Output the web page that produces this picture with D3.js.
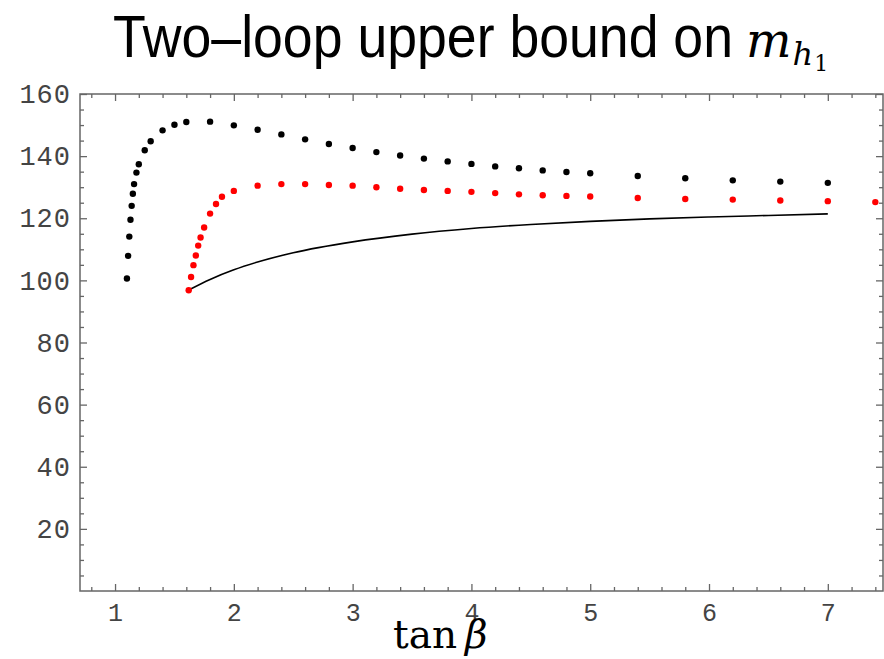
<!DOCTYPE html>
<html><head><meta charset="utf-8">
<script src="https://cdn.jsdelivr.net/npm/d3@7"></script>
<style>body{margin:0;background:#fff}svg{display:block}</style>
</head><body>
<script>
// Black dots (upper series)
const blackX = [1.1,1.11,1.12,1.13,1.14,1.15,1.16,1.18,1.2,1.25,1.3,1.4,1.5,1.6,1.8,2.0,2.2,2.4,2.6,2.8,3.0,3.2,3.4,3.6,3.8,4.0,4.2,4.4,4.6,4.8,5.0,5.4,5.8,6.2,6.6,7.0];
const blackY = [100.6,107.9,114.1,119.5,124.0,127.9,131.0,134.7,137.4,141.9,144.8,148.3,150.1,151.0,151.1,149.9,148.5,147.0,145.4,143.9,142.6,141.3,140.2,139.2,138.3,137.5,136.7,136.1,135.4,134.9,134.5,133.6,132.9,132.2,131.8,131.4];
// Red dots
const redX = [1.62,1.64,1.66,1.68,1.70,1.72,1.75,1.8,1.85,1.9,2.0,2.2,2.4,2.6,2.8,3.0,3.2,3.4,3.6,3.8,4.0,4.2,4.4,4.6,4.8,5.0,5.4,5.8,6.2,6.6,7.0,7.4];
const redY = [96.8,101.1,104.9,108.0,111.2,113.8,117.0,121.5,124.6,126.9,128.8,130.5,131.0,131.0,130.7,130.5,130.0,129.5,129.1,128.8,128.5,128.1,127.7,127.4,127.2,127.0,126.5,126.2,126.0,125.7,125.5,125.2];
// Black line
const lineX = [1.62,1.8,2.0,2.2,2.5,3.0,3.5,4.0,4.5,5.0,5.5,6.0,6.5,7.0];
const lineY = [96.9,100.3,103.4,105.9,108.9,112.4,114.9,116.7,118.0,119.0,119.8,120.4,120.9,121.4];
// Ticks
const xMajor = [1,2,3,4,5,6,7];
const yMajor = [20,40,60,80,100,120,140,160];
const titleText = "Two\u2013loop upper bound on";

const W = 884, H = 659;
const L = 80, R = 884, T = 94, B = 591;
const svg = d3.select("body").append("svg").attr("width", W).attr("height", H);
const x = d3.scaleLinear().domain([0.705, 7.473]).range([L, R]);
const y = d3.scaleLinear().domain([0, 160]).range([B, T]);

const xMinor = d3.range(8, 75, 2).map(v => v / 10).filter(v => !xMajor.includes(v));
const yMinor = d3.range(5, 160, 5).filter(v => !yMajor.includes(v));
const axisColor = "#666";
const monoFont = "Liberation Mono, Courier New, monospace";

function styleAxis(g) {
  g.select(".domain").remove();
  g.selectAll(".tick line").attr("stroke", axisColor).attr("stroke-width", 1.3);
}
// bottom major
svg.append("g").attr("transform", `translate(0,${B})`)
  .call(d3.axisBottom(x).tickValues(xMajor).tickSize(-7).tickPadding(12).tickFormat(d3.format("d")))
  .call(styleAxis)
  .selectAll("text").attr("font-family", monoFont).attr("font-size", 25).attr("fill", "#444");
svg.append("g").attr("transform", `translate(0,${B})`)
  .call(d3.axisBottom(x).tickValues(xMinor).tickSize(-4).tickFormat(""))
  .call(styleAxis);
// top
svg.append("g").attr("transform", `translate(0,${T})`)
  .call(d3.axisTop(x).tickValues(xMajor).tickSize(-7).tickFormat(""))
  .call(styleAxis);
svg.append("g").attr("transform", `translate(0,${T})`)
  .call(d3.axisTop(x).tickValues(xMinor).tickSize(-4).tickFormat(""))
  .call(styleAxis);
// left
svg.append("g").attr("transform", `translate(${L},0)`)
  .call(d3.axisLeft(y).tickValues(yMajor).tickSize(-7).tickPadding(9).tickFormat(d3.format("d")))
  .call(styleAxis)
  .selectAll("text").attr("font-family", monoFont).attr("font-size", 27).attr("letter-spacing", 1).attr("fill", "#444");
svg.append("g").attr("transform", `translate(${L},0)`)
  .call(d3.axisLeft(y).tickValues(yMinor).tickSize(-4).tickFormat(""))
  .call(styleAxis);
// right
svg.append("g").attr("transform", `translate(${R - 1},0)`)
  .call(d3.axisRight(y).tickValues(yMajor).tickSize(-7).tickFormat(""))
  .call(styleAxis);
svg.append("g").attr("transform", `translate(${R - 1},0)`)
  .call(d3.axisRight(y).tickValues(yMinor).tickSize(-4).tickFormat(""))
  .call(styleAxis);

// frame
svg.append("rect").attr("x", L).attr("y", T).attr("width", R - L - 1).attr("height", B - T)
  .attr("fill", "none").attr("stroke", axisColor).attr("stroke-width", 1.5);

// line
const lineData = lineX.map((v, i) => [v, lineY[i]]);
svg.append("path").datum(lineData)
  .attr("d", d3.line().x(d => x(d[0])).y(d => y(d[1])).curve(d3.curveMonotoneX))
  .attr("fill", "none").attr("stroke", "#000").attr("stroke-width", 1.6);

// dots
svg.append("g").selectAll("circle").data(blackX.map((v, i) => [v, blackY[i]])).join("circle")
  .attr("cx", d => x(d[0])).attr("cy", d => y(d[1])).attr("r", 3.2).attr("fill", "#000");
svg.append("g").selectAll("circle").data(redX.map((v, i) => [v, redY[i]])).join("circle")
  .attr("cx", d => x(d[0])).attr("cy", d => y(d[1])).attr("r", 3.2).attr("fill", "#ff0000");

// title
svg.append("text").attr("x", 113).attr("y", 57)
  .attr("font-family", "Liberation Sans, Arial, sans-serif").attr("font-size", 60)
  .attr("textLength", 620).attr("lengthAdjust", "spacingAndGlyphs")
  .attr("fill", "#000").text(titleText);
const serif = "DejaVu Serif, serif";
const mEl = svg.append("text").attr("x", 746).attr("y", 57).attr("font-family", serif)
  .attr("font-style", "italic").attr("font-size", 48).attr("fill", "#000").text("m");
const mW = mEl.node().getComputedTextLength();
const hEl = svg.append("text").attr("x", 746 + mW + 1).attr("y", 65).attr("font-family", serif)
  .attr("font-style", "italic").attr("font-size", 32).attr("fill", "#000").text("h");
const hW = hEl.node().getComputedTextLength();
svg.append("text").attr("x", 746 + mW + hW + 2).attr("y", 71).attr("font-family", serif)
  .attr("font-size", 22).attr("fill", "#000").text("1");

// x label
const tanEl = svg.append("text").attr("x", 393).attr("y", 648)
  .attr("font-family", serif).attr("font-size", 39).attr("fill", "#000").text("tan");
const tanW = tanEl.node().getComputedTextLength();
svg.append("text").attr("x", 393 + tanW + 8).attr("y", 648)
  .attr("font-family", serif).attr("font-size", 39).attr("font-style", "italic").attr("fill", "#000").text("\u03b2");
</script>
</body></html>
